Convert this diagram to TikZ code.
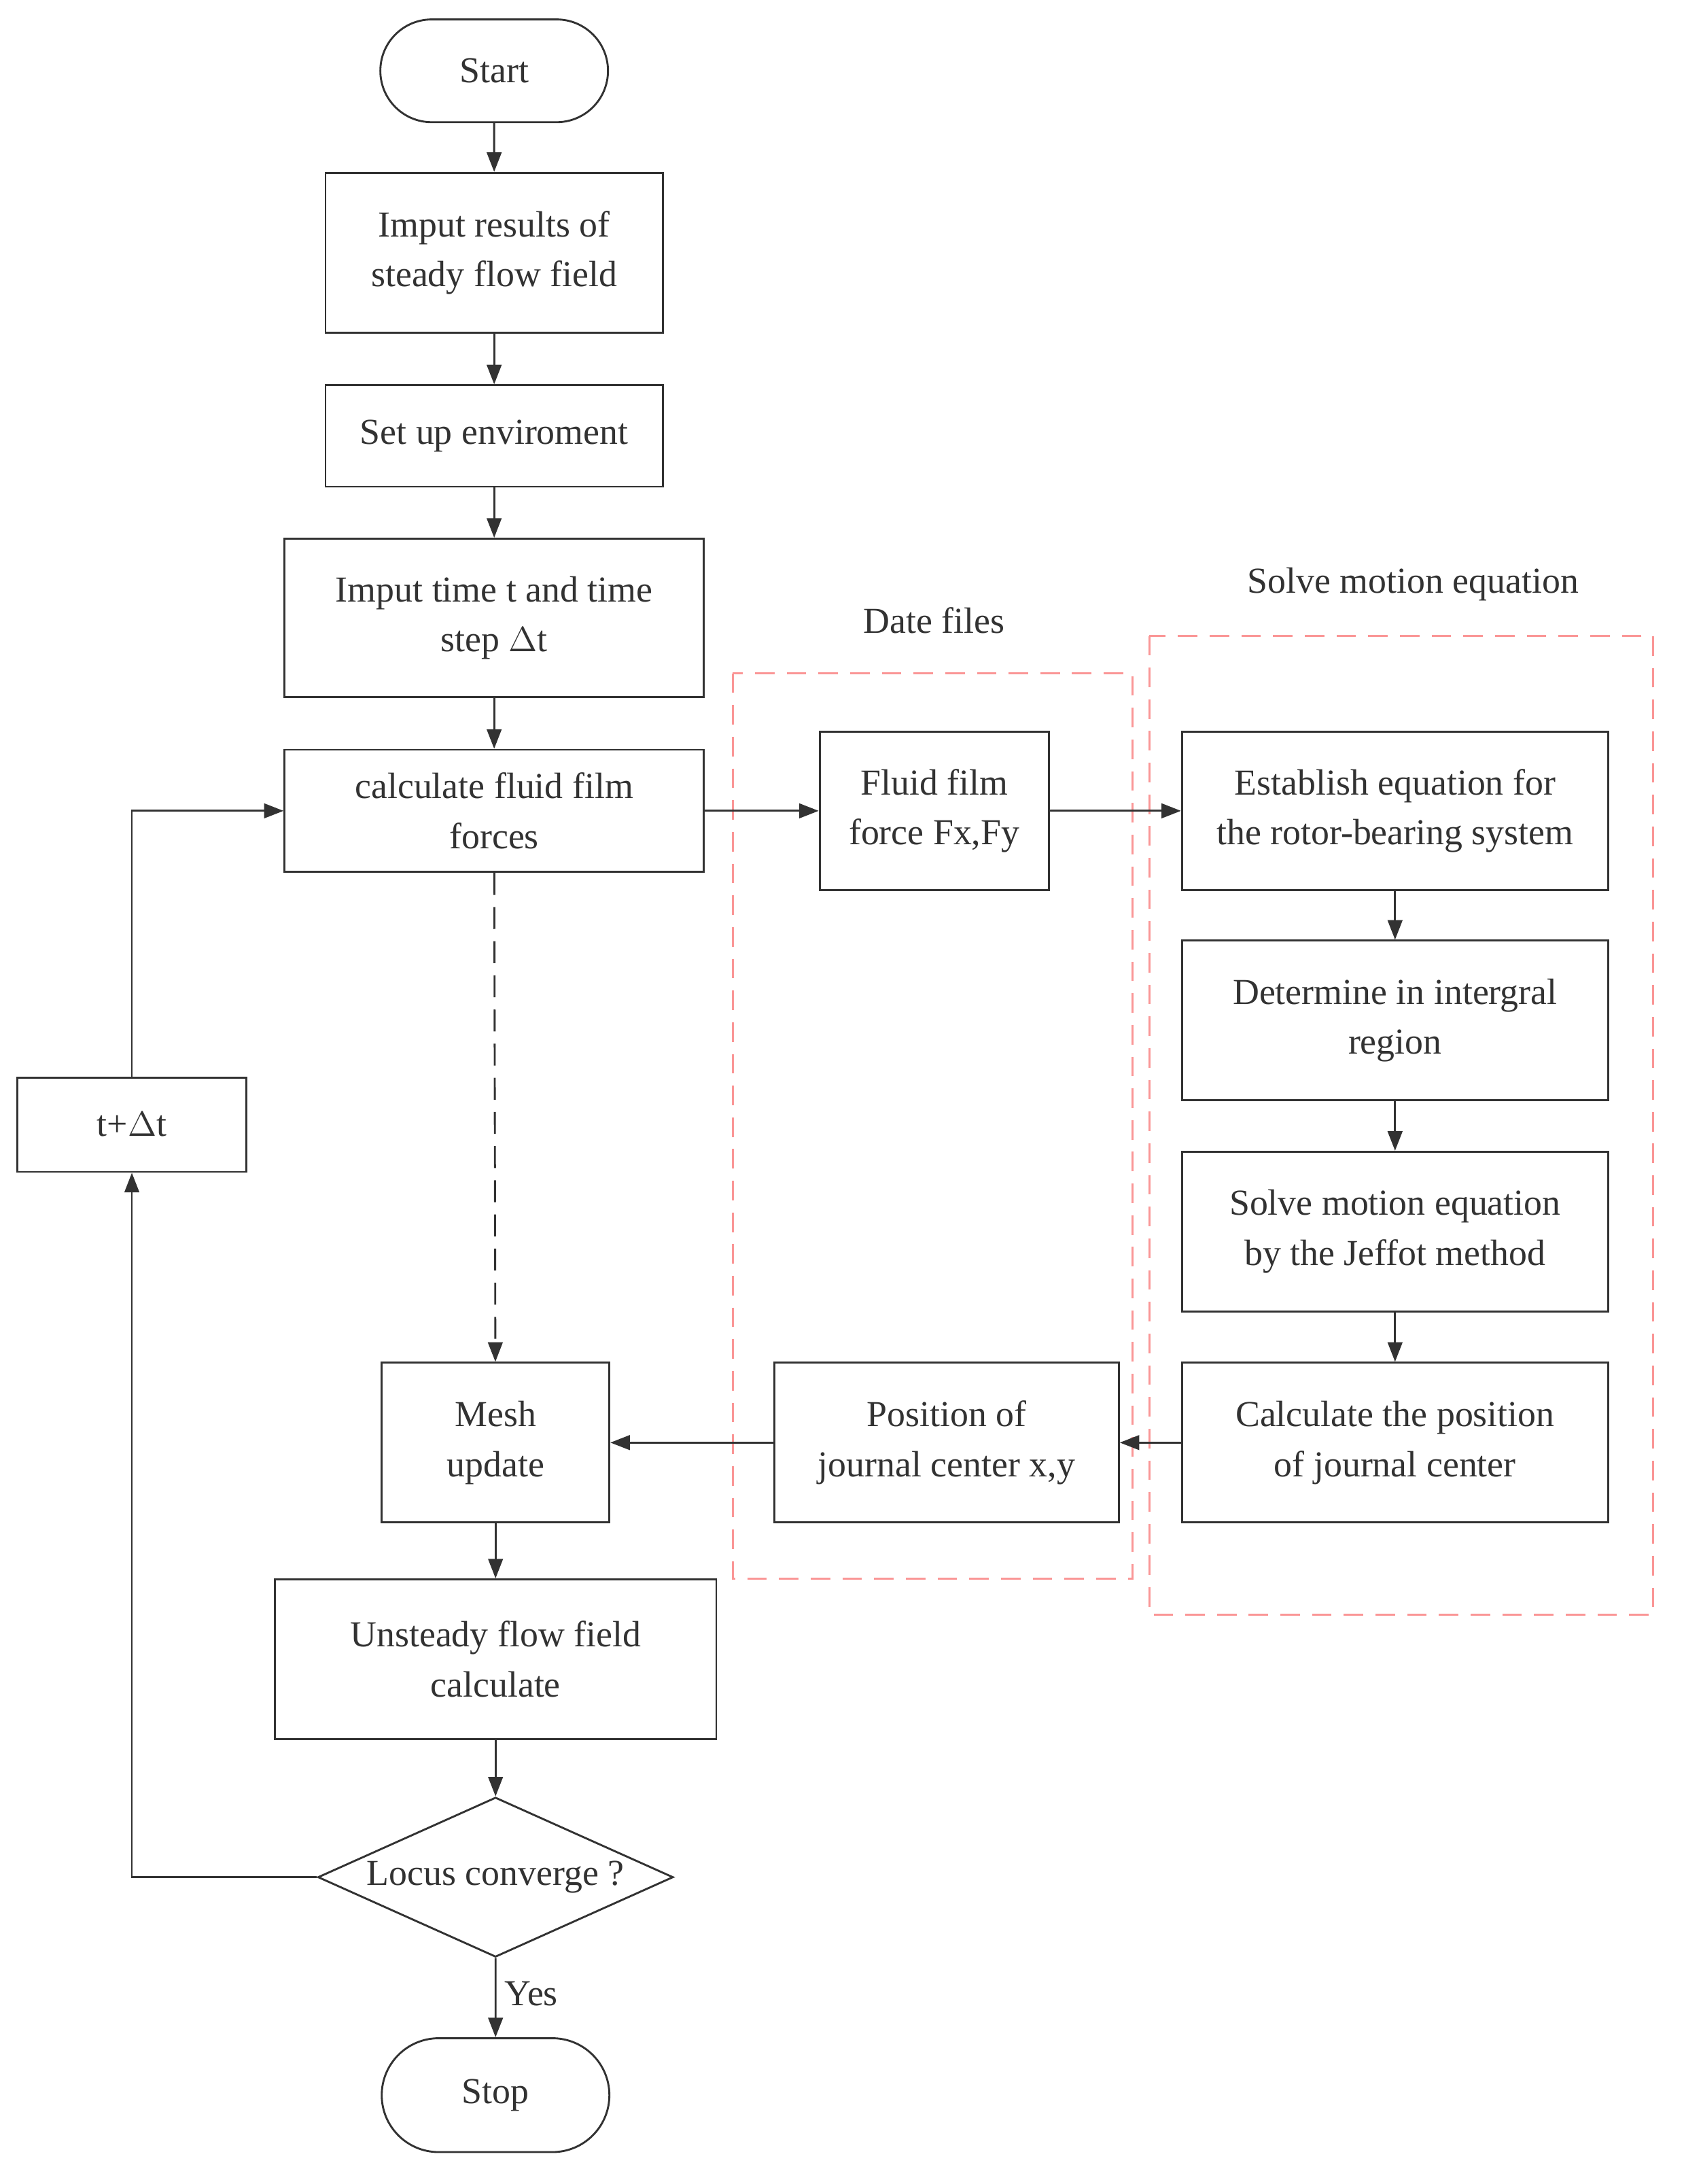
\documentclass[tikz,border=0pt]{standalone}
\usepackage{fontspec}
\setmainfont{Liberation Serif}
\usetikzlibrary{shapes.geometric,shapes.misc,arrows.meta}
\definecolor{lineclr}{RGB}{50,50,50}
\definecolor{dashclr}{RGB}{250,150,150}
\begin{document}
\begin{tikzpicture}[x=0.02cm,y=-0.02cm,
	every node/.style={font=\fontsize{15}{20.5}\selectfont, text=lineclr},
	box/.style={draw=lineclr, thick, rectangle, align=center, inner sep=0pt},
	term/.style={draw=lineclr, thick, rounded rectangle, minimum width=164*0.02cm, inner sep=0pt},
	decide/.style={draw=lineclr, thick, diamond, aspect=2.2, inner sep=0pt, minimum width=256*0.02cm, minimum height=115*0.02cm},
	arr/.style={draw=lineclr, thick, -{Triangle[length=8pt,width=6pt]}},
	frame/.style={draw=dashclr, thick, dashed, dash pattern=on 8pt off 5pt}]
	\useasboundingbox (0,0) rectangle (1213,1573);

	% main column
	\node[term, minimum height=74*0.02cm] (start) at (356,51) {Start};
	\node[box, minimum width=243*0.02cm, minimum height=115*0.02cm] (input) at (356,182) {Imput results of\\steady flow field};
	\node[box, minimum width=243*0.02cm, minimum height=73*0.02cm] (setup) at (356,314) {Set up enviroment};
	\node[box, minimum width=302*0.02cm, minimum height=114*0.02cm] (time) at (356,445) {Imput time t and time\\step $\Delta$t};
	\node[box, minimum width=302*0.02cm, minimum height=88*0.02cm] (calc) at (356,584) {calculate fluid film\\forces};
	\node[box, minimum width=165*0.02cm, minimum height=68*0.02cm] (step) at (95,810) {t+$\Delta$t};
	\node[box, minimum width=164*0.02cm, minimum height=115*0.02cm] (mesh) at (357,1039) {Mesh\\update};
	\node[box, minimum width=318*0.02cm, minimum height=115*0.02cm] (unsteady) at (357,1195) {Unsteady flow field\\calculate};
	\node[decide] (conv) at (357,1352) {Locus converge ?};
	\node[term, minimum height=82*0.02cm] (stop) at (357,1509) {Stop};

	% date files
	\node[box, minimum width=165*0.02cm, minimum height=114*0.02cm] (force) at (673,584) {Fluid film\\force Fx,Fy};
	\node[box, minimum width=248*0.02cm, minimum height=115*0.02cm] (pos) at (682,1039) {Position of\\journal center x,y};

	% motion equation
	\node[box, minimum width=307*0.02cm, minimum height=114*0.02cm] (est) at (1005,584) {Establish equation for\\the rotor-bearing system};
	\node[box, minimum width=307*0.02cm, minimum height=115*0.02cm] (det) at (1005,735) {Determine in intergral\\region};
	\node[box, minimum width=307*0.02cm, minimum height=115*0.02cm] (solve) at (1005,887) {Solve motion equation\\by the Jeffot method};
	\node[box, minimum width=307*0.02cm, minimum height=115*0.02cm] (cpos) at (1005,1039) {Calculate the position\\of journal center};

	\draw[frame] (528,485) rectangle (816,1137);
	\draw[frame] (828,458) rectangle (1191,1163);
	\node (datelbl) at (673,447) {Date files};
	\node (motionlbl) at (1018,421) {Solve motion equation};

	\draw[arr] (start) -- (input);
	\draw[arr] (input) -- (setup);
	\draw[arr] (setup) -- (time);
	\draw[arr] (time) -- (calc);
	\draw[arr, dash pattern=on 9pt off 5pt] (calc) -- (mesh);
	\draw[arr] (mesh) -- (unsteady);
	\draw[arr] (unsteady) -- (conv);
	\draw[arr] (conv) -- node[right, pos=0.45] {Yes} (stop);
	\draw[arr] (conv.west) -| (step.south);
	\draw[arr] (step.north) |- (calc.west);

	\draw[arr] (calc) -- (force);
	\draw[arr] (force) -- (est);
	\draw[arr] (est) -- (det);
	\draw[arr] (det) -- (solve);
	\draw[arr] (solve) -- (cpos);
	\draw[arr] (cpos) -- (pos);
	\draw[arr] (pos) -- (mesh);
\end{tikzpicture}
\end{document}
